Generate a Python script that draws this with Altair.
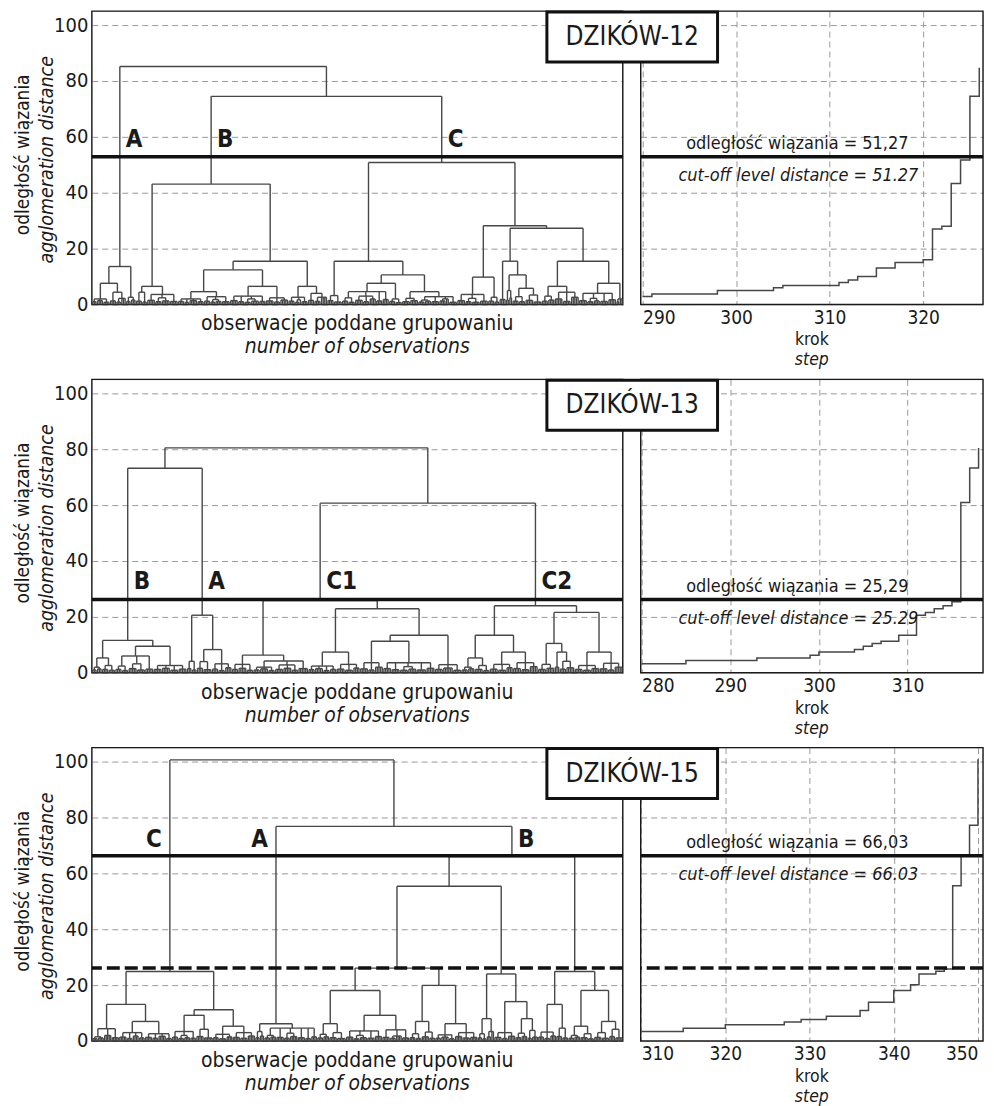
import altair as alt
import pandas as pd

FONT = "DejaVu Sans Condensed, Liberation Sans Narrow, DejaVu Sans, sans-serif"

# ---------------- data ----------------
# dendrogram trees: node = [optional label, merge height, children...]
# child = int k (k single observations) or a nested node
TREE_12 = [85.2,
  ["A", 13.6,
    [7.6,
      [2.0, [1.0, 3], [1.4, 4], [0.8, 4]],
      [4.4, [1.3, 4], [2.2, [0.9, 3], 3]]],
    [2.6, [1.1, 3], [1.6, 3]]],
  [74.5,
    ["B", 43.1,
      [6.5,
        [4.4, [1.2, 4], [0.9, 3]],
        [3.6, [1.5, 5], [2.4, [1.0, 4], [1.3, 5]], [1.1, 5]]],
      [15.5,
        [12.4,
          [4.6,
            [2.0, [1.1, 4], [0.8, 3], [1.4, 5], [1.0, 4]],
            [2.8, [1.2, 4], [1.8, [0.9, 3], [1.1, 4]], [1.0, 5]]],
          [6.5,
            [3.0, [1.4, 5], [1.0, 4], [2.0, [0.8, 4], [1.2, 5]], [1.1, 4]],
            [2.4, [1.3, 5], [0.9, 4], [1.6, 5]]]],
        [6.5,
          [2.6, [1.2, 4], [1.7, [0.8, 3], 1], [1.0, 4]],
          [4.0, [1.5, 4], [2.6, [1.1, 4], 4]]]]],
    ["C", 50.8,
      [15.5,
        [3.2, [1.4, 4], [0.9, 5]],
        [10.6,
          [7.6,
            [4.6, [2.4, [1.2, 4], [0.8, 4]], [3.0, [1.5, 5], [1.0, 4], [2.0, 4]], [1.3, 4], [1.8, 4]],
            [2.0, [1.1, 4], [0.7, 4]]],
          [4.6,
            [2.2, [1.0, 5], [1.4, 5]],
            [2.8, [1.6, [0.9, 4], [1.2, 4]], [1.0, 5], [2.0, [1.3, 4], 2], [0.8, 5]]]]],
      [28.2,
        [9.8,
          [3.6, [1.4, 5], [2.2, [1.0, 4], [0.8, 5]], [1.2, 5]],
          [2.6, [1.2, 4], [0.9, 3]]],
        [27.3,
          [15.5,
            [1.8, 4],
            [10.6,
              [5.0, [1.6, 2], [2.4, 2]],
              [5.8, [2.8, [1.2, 4], [1.0, 4]], [3.4, [1.5, 5], [0.9, 5]]]]],
          [15.5,
            [6.5, [3.0, [1.2, 4], [1.6, 4]], [4.4, [2.0, 5], [1.1, 5], [2.6, 5]]],
            [7.6,
              [4.0, [1.4, 5], [2.2, [1.0, 4], [1.3, 4]], [1.1, 5], [1.7, 5]],
              [2.0, [1.0, 2], 2]]]]]]]]

TREE_13 = [80.5,
  [73.2,
    ["B", 11.6,
      [5.3, [2.0, [1.0, 3], [1.4, 3]], [2.6, [1.2, 4], [0.9, 4]]],
      [9.5,
        [6.0, [2.4, [1.2, 4], [0.8, 4]], [3.2, [1.5, 5], [1.0, 5]], [1.3, 5]],
        [2.6, [1.2, 5], [1.6, 5], [0.9, 5], [1.3, 5]]]],
    ["A", 20.6,
      [4.1, [1.5, 3], [1.0, 3]],
      [8.3,
        [4.0, [1.6, 4], [1.1, 5]],
        [3.2, [1.3, 4], [0.8, 4], [1.8, 4]]]]],
  [60.7,
    ["C1", 25.8,
      [6.3,
        [3.0, [1.2, 4], [1.6, 5], [0.9, 4]],
        [4.2, [2.0, [1.0, 4], [1.4, 5], [0.8, 4]], [2.8, [1.2, 5], [1.6, 5], [0.9, 4]], [1.5, 6]]],
      [22.9,
        [7.4,
          [2.4, [1.1, 4], [1.5, 5], [0.8, 4], [1.2, 4]],
          [3.0, [1.3, 5], [0.9, 5], [1.7, 4]]],
        [13.4,
          [11.3,
            [3.6, [1.4, 5], [1.0, 4], [2.0, 5]],
            [3.6, [1.5, 5], [1.1, 5], [2.2, [0.9, 5], [1.3, 5]], [1.0, 6], [1.6, 5]]],
          [2.9, [1.2, 5], [1.7, 6], [0.9, 5]]]]],
    ["C2", 24.0,
      [13.4,
        [5.3, [2.0, [1.0, 4], [1.4, 4]], [2.6, [1.2, 5], [0.8, 4]]],
        [7.4, [3.0, [1.3, 5], [0.9, 5], [1.8, 4]], [3.6, [1.5, 5], [1.1, 5], [2.2, 5]]]],
      [21.6,
        [10.5,
          [3.0, [1.2, 5], [1.6, 5]],
          [7.4, [2.0, 3], [4.1, [1.3, 4], [1.8, 5]]]],
        [7.4,
          [2.6, [1.2, 5], [0.9, 5], [1.5, 5]],
          [3.4, [1.4, 5], [1.0, 4], [2.0, 5]]]]]]]

TREE_15 = [100.6,
  ["C", 24.9,
    [13.1,
      [4.4, [1.5, [0.8, 4], [1.1, 4]], [2.0, 5], [1.2, 5]],
      [7.0,
        [3.0, [1.4, 5], [0.9, 4], [1.8, 4], [1.1, 4]],
        [2.6, [1.3, 5], [1.0, 4], [1.7, 5], [0.9, 4]]]],
    [11.2,
      [9.2,
        [3.4, [1.4, 4], [2.0, [0.9, 4], [1.2, 4]], [1.0, 4]],
        [4.2, [1.6, 5], [1.1, 6]]],
      [5.3,
        [2.4, [1.2, 4], [0.8, 5], [1.5, 4]],
        [3.0, [1.3, 5], [1.0, 5], [1.8, 5]]]]],
  [76.8,
    ["A", 6.2,
      [3.4, [1.2, 3], [1.8, 3]],
      [4.6, [2.0, [1.1, 4], [1.4, 4]], [1.3, 5], [2.8, [1.0, 4], [1.6, 5]], [1.2, 5], [0.9, 4], [1.5, 4]]],
    ["B", 66.0,
      [55.4,
        [26.1,
          [18.1,
            [6.2, [2.4, [1.1, 4], [1.5, 4]], [3.0, [1.2, 5], [0.9, 6]]],
            [9.2,
              [3.6, [1.4, 5], [2.0, [0.8, 4], [1.2, 5]], [1.0, 5], [1.6, 5]],
              [4.0, [1.3, 5], [1.8, [1.0, 4], 4], [1.1, 5]]]],
          [19.9,
            [7.0, [2.6, [1.2, 4], [0.9, 4]], [3.2, [1.5, 5], [1.0, 4]]],
            [6.2, [2.2, [1.0, 4], [1.4, 5], [0.8, 4]], [3.0, [1.6, 5], [1.1, 5], [1.3, 5]]]]],
        [24.0,
          [8.0, [2.6, [1.2, 3], [0.8, 3]], [3.4, [1.5, 3], 2]],
          [14.1,
            [3.0, [1.3, 5], [0.9, 4], [1.7, 5]],
            [8.0, [2.8, [1.2, 4], [1.6, 4]], [3.8, [1.0, 3], [1.4, 4]]]]]],
      [24.9,
        [13.1,
          [3.2, [1.4, 4], [0.9, 4], [1.8, 4]],
          [4.6, [1.6, 4], [1.1, 4]]],
        [18.1,
          [5.3, [2.0, [1.0, 4], [1.4, 4]], [2.6, [1.2, 5], [0.8, 4]]],
          [7.0, [3.0, [1.3, 5], [1.0, 5]], [4.2, [1.6, 4], [1.1, 5]]]]]]]]

# agglomeration schedule (step -> linkage distance)
STEP_12 = [290, 291, 298, 304, 305, 311, 312, 313, 315, 317, 320, 321, 322, 323, 324, 325, 326]
DIST_12 = [2.9, 3.8, 5.0, 6.0, 6.8, 7.9, 8.8, 10.0, 13.1, 15.0, 16.0, 27.0, 28.0, 43.3, 51.7, 74.5, 84.7]
STEP_13 = [280, 285, 293, 299, 300, 304, 305, 306, 307, 309, 311, 312, 313, 314, 315, 316, 317, 318]
DIST_13 = [3.2, 4.4, 5.3, 6.3, 7.4, 8.3, 9.5, 10.5, 11.3, 13.4, 20.6, 21.6, 22.9, 24.0, 25.4, 60.9, 73.3, 80.4]
STEP_15 = [310, 315, 320, 327, 329, 332, 336, 337, 340, 342, 343, 345, 346, 347, 348, 349, 350]
DIST_15 = [3.4, 4.6, 5.8, 6.8, 7.7, 8.9, 10.9, 13.9, 18.1, 20.1, 24.0, 25.0, 25.8, 55.6, 66.3, 77.2, 100.8]

NAMES = ["DZIKÓW-12", "DZIKÓW-13", "DZIKÓW-15"]
CUT_LEVELS = [52.9, 26.2, 66.3]
CUT_TEXT_PL = ["odległość wiązania = 51,27", "odległość wiązania = 25,29", "odległość wiązania = 66,03"]
CUT_TEXT_EN = ["cut-off level distance = 51.27", "cut-off level distance = 25.29", "cut-off level distance = 66.03"]
SECOND_CUT = [None, None, 26.1]
LABEL_HEIGHT = [56.2, 29.8, 69.3]
LEFT_SIDE_LABELS = [[], [], ["C", "A"]]
STEP_DOMAIN = [[289.8, 326.4], [279.9, 318.5], [309.95, 350.6]]
STEP_TICKS = [[290, 300, 310, 320], [280, 290, 300, 310], [310, 320, 330, 340, 350]]

TREES = [TREE_12, TREE_13, TREE_15]
STEPS = [(STEP_12, DIST_12), (STEP_13, DIST_13), (STEP_15, DIST_15)]


# ---------------- helpers ----------------
def layout(tree):
    segs, labels = [], []
    counter = [0]

    def walk(node):
        items = list(node)
        label = None
        if isinstance(items[0], str):
            label = items.pop(0)
        h = items[0]
        pts = []
        for c in items[1:]:
            if isinstance(c, int):
                for _ in range(c):
                    pts.append((float(counter[0]), 0.0))
                    counter[0] += 1
            else:
                pts.append(walk(c))
        for cx, cy in pts:
            segs.append((cx, cx, cy, h))
        segs.append((pts[0][0], pts[-1][0], h, h))
        x = (pts[0][0] + pts[-1][0]) / 2.0
        if label:
            labels.append((label, x))
        return (x, h)

    walk(tree)
    return segs, labels, counter[0]


ONE = pd.DataFrame({"d": [0]})
INK = "#1a1a1a"
LINE = "#474747"
GRID = "#9a9a9a"
YS = alt.Scale(domain=[0, 105], nice=False, zero=False)
LW, LH = 532, 294
RW, RH = 343, 294

Y_AXIS_LEFT = alt.Axis(values=[0, 20, 40, 60, 80, 100], grid=True, gridDash=[6, 4], gridColor=GRID,
                       gridWidth=1, ticks=False, domain=False, labelFont=FONT, labelFontSize=20,
                       labelColor=INK, labelPadding=4, title=None)
Y_AXIS_RIGHT = alt.Axis(values=[20, 40, 60, 80, 100], grid=True, gridDash=[6, 4], gridColor=GRID,
                        gridWidth=1, ticks=False, domain=False, labels=False, title=None)


def border():
    return alt.Chart(ONE).mark_rect(fill="white", fillOpacity=0, stroke=INK, strokeWidth=1.4).encode(
        x=alt.value(0), x2=alt.value("width"), y=alt.value(0), y2=alt.value("height"))


def text_at(txt, x, y, size, italic=False, angle=0, bold=False, align="center", baseline="alphabetic"):
    kw = dict(text=txt, font=FONT, fontSize=size, color=INK, align=align, baseline=baseline)
    if italic:
        kw["fontStyle"] = "italic"
    if bold:
        kw["fontWeight"] = "bold"
    if angle:
        kw["angle"] = angle
    return alt.Chart(ONE).mark_text(**kw).encode(x=alt.value(x), y=alt.value(y))


def left_panel(i):
    segs, labels, n = layout(TREES[i])
    seg_df = pd.DataFrame(segs, columns=["x", "x2", "y", "y2"])
    xs = alt.Scale(domain=[-0.5, n - 0.5], nice=False, zero=False)
    ya = Y_AXIS_LEFT
    layers = [border()]
    layers.append(alt.Chart(seg_df).mark_rule(color=LINE, strokeWidth=1.4).encode(
        x=alt.X("x:Q", scale=xs, axis=None), x2="x2:Q",
        y=alt.Y("y:Q", scale=YS, axis=ya), y2="y2:Q"))
    if SECOND_CUT[i] is not None:
        layers.append(alt.Chart(pd.DataFrame({"y": [SECOND_CUT[i]]})).mark_rule(
            color="#111111", strokeWidth=3.5, strokeDash=[13, 5]).encode(y=alt.Y("y:Q", axis=ya)))
    layers.append(alt.Chart(pd.DataFrame({"y": [CUT_LEVELS[i]]})).mark_rule(
        color="#111111", strokeWidth=3.5).encode(y=alt.Y("y:Q", axis=ya)))
    lab_r = [(t, x, LABEL_HEIGHT[i]) for t, x in labels if t not in LEFT_SIDE_LABELS[i]]
    lab_l = [(t, x, LABEL_HEIGHT[i]) for t, x in labels if t in LEFT_SIDE_LABELS[i]]
    if lab_r:
        layers.append(alt.Chart(pd.DataFrame(lab_r, columns=["t", "x", "y"])).mark_text(
            font=FONT, fontSize=24, fontWeight="bold", color=INK, align="left", baseline="alphabetic", dx=6
        ).encode(x=alt.X("x:Q", axis=None), y=alt.Y("y:Q", axis=ya), text="t:N"))
    if lab_l:
        layers.append(alt.Chart(pd.DataFrame(lab_l, columns=["t", "x", "y"])).mark_text(
            font=FONT, fontSize=24, fontWeight="bold", color=INK, align="right", baseline="alphabetic", dx=-8
        ).encode(x=alt.X("x:Q", axis=None), y=alt.Y("y:Q", axis=ya), text="t:N"))
    layers.append(text_at("odległość wiązania", -63, 144, 19, angle=270))
    layers.append(text_at("agglomeration distance", -39, 149, 19.5, italic=True, angle=270))
    layers.append(text_at("obserwacje poddane grupowaniu", LW / 2, 320, 21))
    layers.append(text_at("number of observations", LW / 2, 343, 21, italic=True))
    return alt.layer(*layers).properties(width=LW, height=LH)


def right_panel(i):
    sx, sy = STEPS[i]
    df = pd.DataFrame({"s": sx, "v": sy})
    xs = alt.Scale(domain=STEP_DOMAIN[i], nice=False, zero=False)
    xaxis = alt.Axis(values=STEP_TICKS[i], grid=True, gridDash=[6, 4], gridColor=GRID, gridWidth=1,
                     ticks=False, domain=False, labelFont=FONT, labelFontSize=19, labelColor=INK,
                     labelFlush=8, labelPadding=4, title=None)
    ya = Y_AXIS_RIGHT
    layers = [border()]
    layers.append(alt.Chart(df).mark_line(interpolate="step-after", color=LINE, strokeWidth=1.5).encode(
        x=alt.X("s:Q", scale=xs, axis=xaxis), y=alt.Y("v:Q", scale=YS, axis=ya)))
    if SECOND_CUT[i] is not None:
        layers.append(alt.Chart(pd.DataFrame({"y": [SECOND_CUT[i]]})).mark_rule(
            color="#111111", strokeWidth=3.5, strokeDash=[13, 5]).encode(y=alt.Y("y:Q", axis=ya)))
    cut_df = pd.DataFrame({"y": [CUT_LEVELS[i]], "pl": [CUT_TEXT_PL[i]], "en": [CUT_TEXT_EN[i]]})
    layers.append(alt.Chart(cut_df).mark_rule(color="#111111", strokeWidth=3.5).encode(
        y=alt.Y("y:Q", axis=ya)))
    layers.append(alt.Chart(cut_df).mark_text(font=FONT, fontSize=18, color=INK, align="center",
                                              baseline="alphabetic", dy=-8).encode(
        x=alt.value(157), y=alt.Y("y:Q", axis=ya), text="pl:N"))
    layers.append(alt.Chart(cut_df).mark_text(font=FONT, fontSize=18, fontStyle="italic", color=INK,
                                              align="center", baseline="alphabetic", dy=24).encode(
        x=alt.value(158), y=alt.Y("y:Q", axis=ya), text="en:N"))
    layers.append(text_at("krok", RW / 2, 335, 17.5))
    layers.append(text_at("step", RW / 2, 355, 17.5, italic=True))
    layers.append(alt.Chart(ONE).mark_rect(fill="white", stroke="#111111", strokeWidth=3).encode(
        x=alt.value(-94), x2=alt.value(77), y=alt.value(1), y2=alt.value(51)))
    layers.append(text_at(NAMES[i], -8.5, 26, 26, baseline="middle"))
    return alt.layer(*layers).properties(width=RW, height=RH)


panels = []
for i in range(3):
    panels.append(left_panel(i))
    panels.append(right_panel(i))

chart = alt.concat(*panels, columns=2, spacing={"row": 75, "column": 18}, bounds="flush").properties(
    padding={"left": 5, "top": 0, "right": 0, "bottom": 0}
).configure_view(strokeWidth=0).configure(font=FONT)

chart.save("out.html", embed_options={"renderer": "svg", "actions": False})
